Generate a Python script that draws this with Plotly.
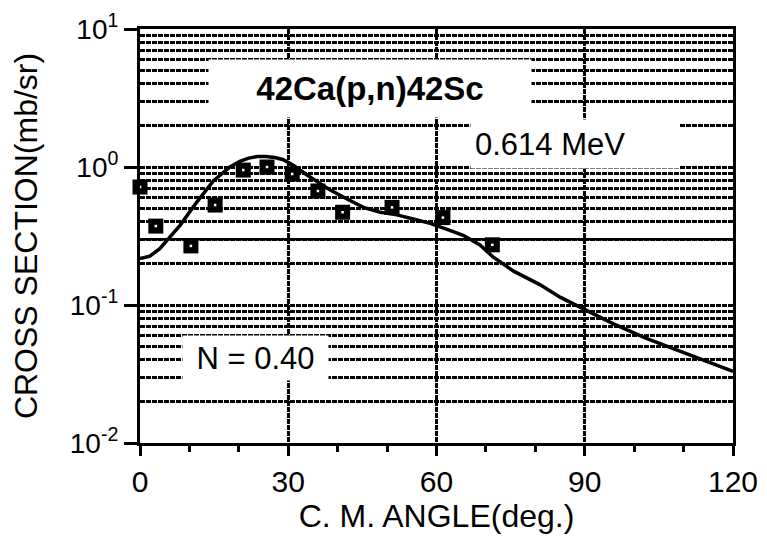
import plotly.graph_objects as go

# ---- data ----
exp_angle = [0, 3.2, 10.3, 15.2, 20.9, 25.7, 30.8, 36.0, 41.0, 51.0, 61.3, 71.3]
exp_xs = [0.716, 0.373, 0.268, 0.53, 0.95, 1.0, 0.89, 0.67, 0.47, 0.51, 0.43, 0.273]

calc_angle = [0, 2, 4, 6.1, 8.1, 11.5, 14.8, 18.2, 20.2, 22, 23.7, 25.5, 27.3, 29, 31, 33.8,
              38.5, 41.9, 45.2, 48.6, 52, 55.3, 58.7, 62, 65.4, 68.8, 71.5, 75.6,
              81, 85, 89.7, 95.8, 102.6, 109.3, 116, 120]
calc_xs = [0.217, 0.226, 0.256, 0.311, 0.378, 0.557, 0.79, 1.0, 1.1, 1.16, 1.19, 1.19, 1.17, 1.13,
           1.03, 0.875, 0.68, 0.586, 0.51, 0.47, 0.45, 0.42, 0.39, 0.355, 0.32, 0.272,
           0.222, 0.176, 0.14, 0.114, 0.094, 0.073, 0.057, 0.046, 0.037, 0.033]

x_ticks = [0, 30, 60, 90, 120]
y_ticks = [0.01, 0.1, 1, 10]
y_ticktext = ["10<sup>-2</sup>", "10<sup>-1</sup>", "10<sup>0</sup>", "10<sup>1</sup>"]
ref_level = 0.3

FONT = "Liberation Sans, Arial, Helvetica, sans-serif"
DASH = "5px,1px"

fig = go.Figure()
fig.add_trace(go.Scatter(x=calc_angle, y=calc_xs, mode="lines",
                         line=dict(color="black", width=3.5),
                         showlegend=False, hoverinfo="skip"))
fig.add_trace(go.Scatter(x=exp_angle, y=exp_xs, mode="markers",
                         marker=dict(symbol="square", size=15, color="black"),
                         showlegend=False, cliponaxis=False))
fig.add_trace(go.Scatter(x=exp_angle, y=exp_xs, mode="markers",
                         marker=dict(symbol="square", size=2.5, color="white"),
                         showlegend=False, cliponaxis=False, hoverinfo="skip"))

fig.add_shape(type="line", xref="paper", x0=0, x1=1, yref="y", y0=ref_level, y1=ref_level,
              line=dict(color="black", width=2.5), layer="below")

fig.add_annotation(xref="paper", yref="paper", x=0.388, y=0.856,
                   xanchor="center", yanchor="middle",
                   text="<b>42Ca(p,n)42Sc</b>", showarrow=False,
                   font=dict(family=FONT, size=33, color="black"),
                   bgcolor="white", width=320, height=55, borderpad=1)
fig.add_annotation(xref="paper", yref="paper", x=0.733, y=0.722,
                   xanchor="center", yanchor="middle",
                   text="0.614 MeV", showarrow=False,
                   font=dict(family=FONT, size=31, color="black"),
                   bgcolor="white", width=200, height=40, borderpad=4, align="left")
fig.add_annotation(xref="paper", yref="paper", x=0.194, y=0.205,
                   xanchor="center", yanchor="middle",
                   text="N = 0.40", showarrow=False,
                   font=dict(family=FONT, size=31, color="black"),
                   bgcolor="white", width=143, height=42, borderpad=1)

fig.update_layout(
    width=759, height=537,
    margin=dict(l=132, r=34, t=21, b=102),
    paper_bgcolor="white", plot_bgcolor="white",
    font=dict(family=FONT, color="black"),
    xaxis=dict(
        range=[0, 120], tickvals=x_ticks, ticks="outside", ticklen=10, tickwidth=3,
        tickcolor="black", tickfont=dict(size=30), automargin=False,
        showline=True, linecolor="black", linewidth=3, mirror=True,
        showgrid=True, gridcolor="black", gridwidth=2.5, griddash=DASH, zeroline=False,
        minor=dict(dtick=10, ticks="outside", ticklen=6, tickwidth=3, tickcolor="black",
                   showgrid=False),
        title=dict(text="C. M. ANGLE(deg.)", font=dict(size=32), standoff=6),
    ),
    yaxis=dict(
        type="log", range=[-2, 1], tickvals=y_ticks, ticktext=y_ticktext,
        ticks="outside", ticklen=13, tickwidth=3, tickcolor="black",
        tickfont=dict(size=28), automargin=False,
        showline=True, linecolor="black", linewidth=3, mirror=True,
        showgrid=True, gridcolor="black", gridwidth=2.5, griddash=DASH, zeroline=False,
        minor=dict(dtick="D1", ticks="", showgrid=True, gridcolor="black",
                   gridwidth=2.5, griddash=DASH),
        title=dict(text="CROSS SECTION(mb/sr)", font=dict(size=32), standoff=24),
    ),
)

fig.write_html("out.html")
